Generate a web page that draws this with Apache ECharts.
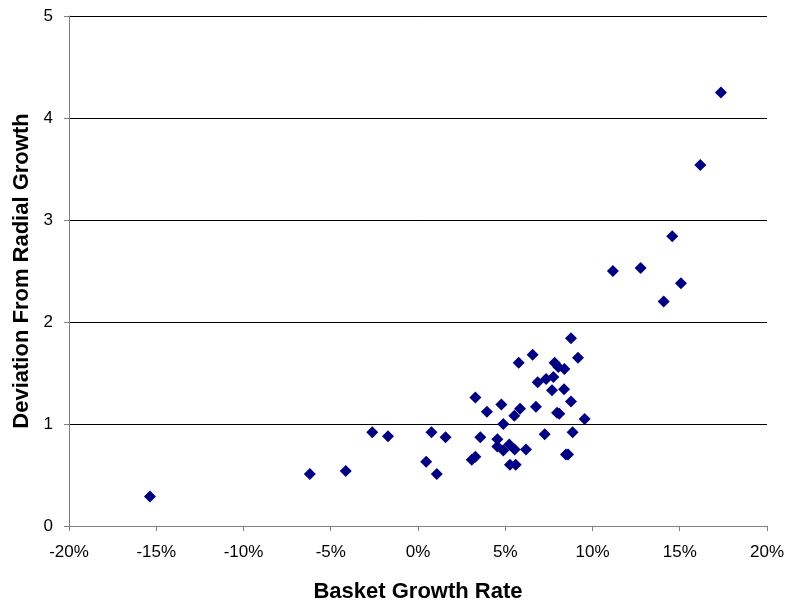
<!DOCTYPE html>
<html><head><meta charset="utf-8">
<script src="https://cdn.jsdelivr.net/npm/echarts@6/dist/echarts.min.js"></script>
<style>html,body{margin:0;padding:0;background:#fff}#c{width:787px;height:608px}</style>
</head><body><div id="c"></div>
<script>
// Basket growth rate (%) and deviation from radial growth
const growthRate = [
  -15.36, -6.2, -4.14, -2.62, -1.72, 0.47, 0.77, 1.08, 1.58,
  3.08, 3.29, 3.29, 3.57, 3.95, 4.55, 4.55, 4.78, 4.89, 4.89,
  5.23, 5.27, 5.52, 5.54, 5.6, 5.77, 5.85, 6.19, 6.57, 6.76,
  6.86, 7.26, 7.34, 7.68, 7.76, 7.83, 7.97, 8.04, 8.1, 8.37,
  8.39, 8.48, 8.6, 8.77, 8.77, 8.86, 9.17, 9.55,
  11.17, 12.76, 14.08, 14.57, 15.07, 16.18, 17.36
];
const deviation = [
  0.29, 0.51, 0.54, 0.92, 0.88, 0.63, 0.92, 0.51, 0.87,
  0.65, 0.68, 1.26, 0.87, 1.12, 0.85, 0.78, 1.19, 1.0, 0.74,
  0.8, 0.6, 1.08, 0.75, 0.6, 1.6, 1.15, 0.75, 1.68, 1.17,
  1.41, 0.9, 1.44, 1.33, 1.46, 1.6, 1.11, 1.56, 1.1, 1.34,
  1.54, 0.7, 0.7, 1.84, 1.22, 0.92, 1.65, 1.05,
  2.5, 2.53, 2.2, 2.84, 2.38, 3.54, 4.25
];
const xTicks = {min: -20, max: 20, interval: 5};
const yTicks = {min: 0, max: 5, interval: 1};
const xTitle = 'Basket Growth Rate';
const yTitle = 'Deviation From Radial Growth';

const points = growthRate.map((g, i) => [g, deviation[i]]);
const chart = echarts.init(document.getElementById('c'), null, {renderer: 'canvas'});
const font = '"Liberation Sans", Arial, sans-serif';
chart.setOption({
  animation: false,
  backgroundColor: '#ffffff',
  grid: {left: 69, right: 20, top: 16, bottom: 80, containLabel: false},
  xAxis: {
    type: 'value', min: xTicks.min, max: xTicks.max, interval: xTicks.interval,
    name: xTitle, nameLocation: 'middle', nameGap: 55,
    nameTextStyle: {fontFamily: font, fontWeight: 'bold', fontSize: 22, color: '#000'},
    axisLine: {show: true, onZero: false, lineStyle: {color: '#808080', width: 1}},
    axisTick: {show: true, inside: false, length: 5, lineStyle: {color: '#808080'}},
    axisLabel: {fontFamily: font, fontSize: 17, color: '#000', margin: 18,
      formatter: v => v + '%'},
    splitLine: {show: false}
  },
  yAxis: {
    type: 'value', min: yTicks.min, max: yTicks.max, interval: yTicks.interval,
    name: yTitle, nameLocation: 'middle', nameGap: 34, nameRotate: 90,
    nameTextStyle: {fontFamily: font, fontWeight: 'bold', fontSize: 22, color: '#000'},
    axisLine: {show: true, onZero: false, lineStyle: {color: '#808080', width: 1}},
    axisTick: {show: true, inside: false, length: 5, lineStyle: {color: '#808080'}},
    axisLabel: {fontFamily: font, fontSize: 17, color: '#000', margin: 16},
    splitLine: {show: true, lineStyle: {color: '#000000', width: 1}}
  },
  series: [{
    type: 'scatter',
    data: points,
    symbol: 'diamond',
    symbolSize: 12,
    itemStyle: {color: '#000080', opacity: 1}
  }]
});
</script></body></html>
